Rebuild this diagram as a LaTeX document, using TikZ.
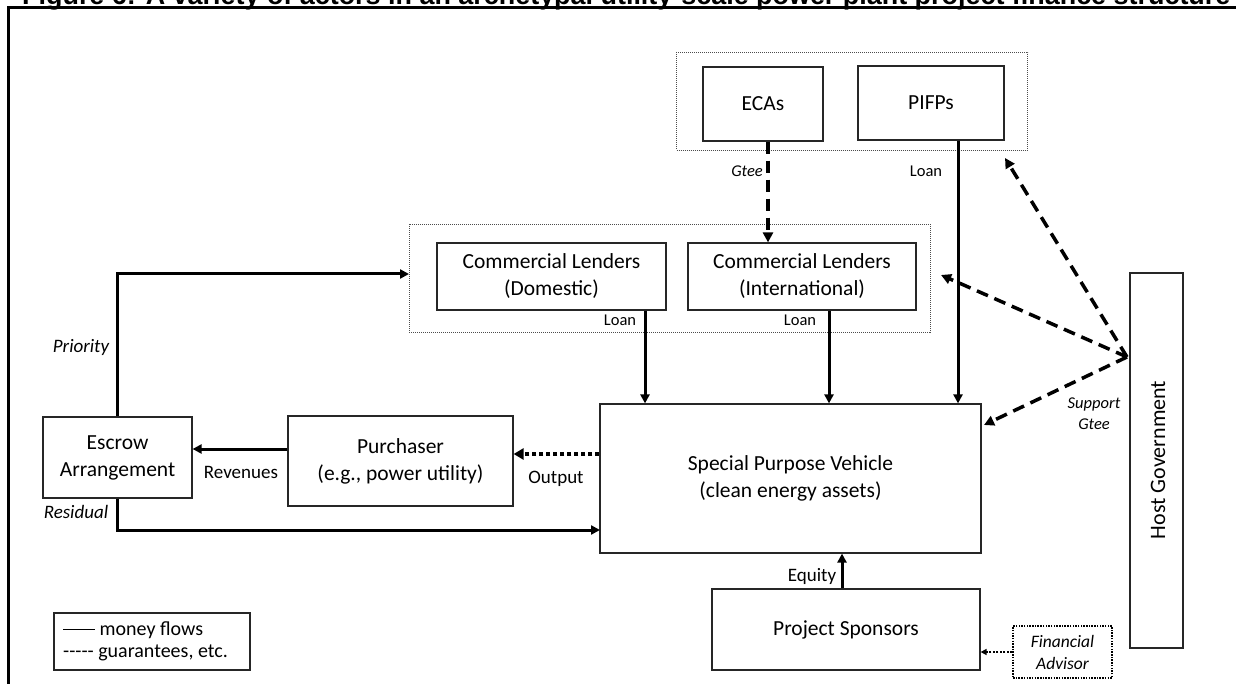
\documentclass[tikz,border=0pt]{standalone}
\usepackage{fontspec}
\setmainfont{Carlito}
\newfontfamily\titlefont{Liberation Sans}
\usetikzlibrary{arrows.meta,calc}
\tikzset{
  box/.style={draw=black!85, line width=1.2pt, fill=white, inner sep=0pt, align=center, font=\fontsize{21.5}{27}\selectfont},
  dotbox/.style={draw=black!70, line width=0.9pt, dash pattern=on 1pt off 1pt, inner sep=0pt},
  money/.style={line width=3pt, -{Triangle[length=9pt,width=9pt]}},
  gtee/.style={line width=3.5pt, dash pattern=on 12pt off 7pt, -{Triangle[length=10pt,width=10pt]}},
  flowdot/.style={line width=4.5pt, dash pattern=on 4pt off 3pt, -{Triangle[length=10pt,width=11pt]}},
  advdot/.style={line width=1.5pt, dash pattern=on 2pt off 1.5pt, -{Triangle[length=6pt,width=6pt]}},
  smalllab/.style={inner sep=0pt, font=\fontsize{16.5}{20}\selectfont},
  midlab/.style={inner sep=0pt, font=\fontsize{19}{23}\selectfont},
  itlab/.style={inner sep=0pt, font=\fontsize{19}{23}\selectfont\itshape},
}
\begin{document}
\begin{tikzpicture}[x=1pt,y=-1pt]
\useasboundingbox (0,0) rectangle (1236,684);
\clip (0,0) rectangle (1236,684);
% title (cut off at the top edge, as in the reference)
\node[anchor=base west, inner sep=0pt] (title) at (22,4.5) {\resizebox{1208pt}{!}{\titlefont\bfseries Figure 6: A variety of actors in an archetypal utility-scale power plant project finance structure}};
% frame
\draw[line width=3pt] (8,690) -- (8,7.5) -- (1240,7.5);

% containers
\node[dotbox, minimum width=351pt, minimum height=98pt] (topc) at (852,101) {};
\node[dotbox, minimum width=521pt, minimum height=108pt] (clc) at (669.5,278) {};

% boxes
\node[box, minimum width=120pt, minimum height=74pt] (eca) at (763,104) {ECAs};
\node[box, minimum width=146pt, minimum height=74pt] (pifp) at (931,103) {PIFPs};
\node[box, minimum width=229pt, minimum height=67pt] (cld) at (551.5,276.5) {Commercial Lenders\\(Domestic)};
\node[box, minimum width=228pt, minimum height=67pt] (cli) at (802,276.5) {Commercial Lenders\\(International)};
\node[box, minimum width=381pt, minimum height=149pt] (spv) at (790.5,478.5) {Special Purpose Vehicle\\(clean energy assets)};
\node[box, minimum width=225pt, minimum height=90pt] (pur) at (400.5,461) {Purchaser\\(e.g., power utility)};
\node[box, minimum width=149pt, minimum height=81pt] (esc) at (117.5,457.5) {Escrow\\Arrangement};
\node[box, minimum width=268pt, minimum height=81pt] (spo) at (846,629.5) {Project Sponsors};
\node[box, dotbox, draw=black, line width=1.5pt, dash pattern=on 1.5pt off 1.2pt, minimum width=99pt, minimum height=52pt, font=\fontsize{17.5}{22}\selectfont\itshape] (fa) at (1062.5,652) {Financial\\Advisor};
\node[box, minimum width=53pt, minimum height=375pt] (hg) at (1156.5,460.5) {};
\node[rotate=90, inner sep=0pt, font=\fontsize{22}{26}\selectfont] (hgt) at (1158,460) {Host Government};

% legend
\node[box, minimum width=196pt, minimum height=57pt] (leg) at (152,641.5) {};
\node[anchor=west, inner sep=0pt, align=left, font=\fontsize{20}{22}\selectfont] (legt) at (63,641.5) {\rule[0.27em]{1.6em}{1.6pt} money flows\\{-}{-}{-}{-}{-} guarantees, etc.};

% coordinates
\coordinate (hgp) at (1127,357);
\coordinate (t1) at (1005,158);
\coordinate (t2) at (941,275);
\coordinate (t3) at (984,425);
\coordinate (pri) at (409,274);
\coordinate (res) at (600,530);

% money flows
\draw[money] (cld.south -| 645,0) -- (spv.north -| 645,0);
\draw[money] (cli.south -| 829,0) -- (spv.north -| 829,0);
\draw[money] (pifp.south -| 958,0) -- (spv.north -| 958,0);
\draw[money] (spo.north -| 842,0) -- (spv.south -| 842,0);
\draw[money] (pur.west |- 0,449) -- (esc.east |- 0,449);
\draw[money] (esc.north) |- (pri);
\draw[money] (esc.south) |- (res);

% guarantees
\draw[gtee] (eca.south -| 768,0) -- (cli.north -| 768,0);
\draw[gtee] (hgp) -- (t1);
\draw[gtee] (hgp) -- (t2);
\draw[gtee] (hgp) -- (t3);

% output
\draw[flowdot] (spv.west |- 0,454) -- (pur.east |- 0,454);
\draw[advdot] (fa.west) -- (spo.east |- fa.west);

% labels
\node[smalllab] (l1) at (620,320) {Loan};
\node[smalllab] (l2) at (800,320) {Loan};
\node[smalllab] (l3) at (926,171) {Loan};
\node[smalllab, font=\fontsize{16.5}{20}\selectfont\itshape] (g1) at (747,171) {Gtee};
\node[itlab] (prl) at (81,347) {Priority};
\node[itlab] (rsl) at (76,512) {Residual};
\node[midlab] (rvl) at (241,472) {Revenues};
\node[midlab] (otl) at (556,479) {Output};
\node[midlab] (eql) at (812,576) {Equity};
\node[smalllab, align=center, font=\fontsize{16.5}{21}\selectfont\itshape] (sgl) at (1094,414) {Support\\Gtee};
\end{tikzpicture}
\end{document}
